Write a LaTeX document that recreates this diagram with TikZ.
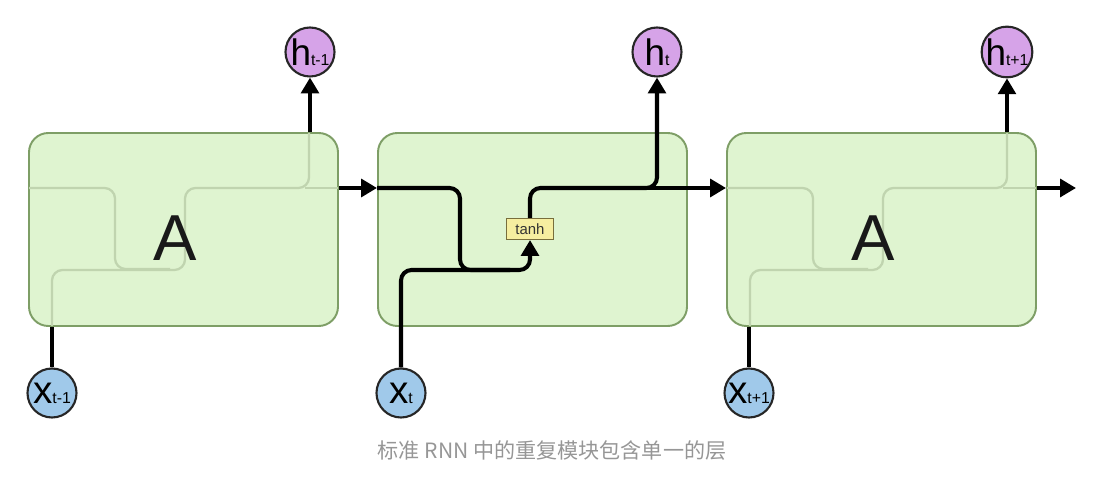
\documentclass[tikz,border=0pt]{standalone}
\usepackage{fontspec}
\setmainfont{Liberation Sans}
\newfontfamily\cjkfont{Noto Sans CJK SC}
\usetikzlibrary{arrows.meta}
\usetikzlibrary{calc}

\definecolor{cellfill}{RGB}{223,244,208}
\definecolor{celldraw}{RGB}{126,158,102}
\definecolor{ghost}{RGB}{192,212,175}
\definecolor{hfill}{RGB}{214,163,232}
\definecolor{xfill}{RGB}{160,201,234}
\definecolor{tanhfill}{RGB}{246,238,160}
\definecolor{tanhdraw}{RGB}{120,110,60}
\definecolor{captiongray}{RGB}{150,150,150}

\tikzset{
  cell/.style={draw=celldraw, line width=1.1pt, fill=cellfill, rounded corners=11pt,
    minimum width=6.18cm, minimum height=3.86cm, inner sep=0pt},
  letter/.style={text=black!90, font=\fontsize{37}{37}\selectfont},
  hout/.style={circle, draw=black!85, line width=1.2pt, fill=hfill, minimum size=0.98cm, inner sep=0pt},
  xin/.style={circle, draw=black!85, line width=1.2pt, fill=xfill, minimum size=0.98cm, inner sep=0pt},
  wire/.style={line width=2.3pt, rounded corners=6pt},
  arr/.style={wire, -{Triangle[length=9pt,width=10pt]}},
  ghostwire/.style={ghost, line width=1.3pt, rounded corners=6pt},
}

\newcommand{\hlab}[1]{{\fontsize{21}{21}\selectfont h}{\fontsize{9}{9}\selectfont #1}}
\newcommand{\xlab}[1]{{\fontsize{22}{22}\selectfont x}{\fontsize{9}{9}\selectfont #1}}

\begin{document}
\begin{tikzpicture}
  \useasboundingbox (0,0) rectangle (22.32,9.62);

  % cells
  \node[cell] (A1) at (3.67,5.03) {};
  \node[cell] (A2) at (10.65,5.03) {};
  \node[cell] (A3) at (17.63,5.03) {};

  \coordinate (mid) at (0,5.86);
  \coordinate (low) at (0,4.22);
  \coordinate (out) at (21.52,5.86);

  % inputs and outputs
  \node[hout] (h1) at (6.20,8.58) {\hlab{t-1}};
  \node[hout] (h2) at (13.14,8.58) {\hlab{t}};
  \node[hout] (h3) at (20.14,8.58) {\hlab{t+1}};
  \node[xin] (x1) at (1.04,1.76) {\xlab{t-1}};
  \node[xin] (x2) at (8.02,1.76) {\xlab{t}};
  \node[xin] (x3) at (14.98,1.76) {\xlab{t+1}};

  % faint wiring inside the outer cells
  \foreach \s/\n in {0/1,13.96/3} {
    \begin{scope}[shift={(\s,0)}]
      \draw[ghostwire] (0.58,5.86) -- (2.30,5.86) -- (2.30,4.24) -- (3.40,4.24);
      \draw[ghostwire] (1.04,3.10) -- (1.04,4.22) -- (3.70,4.22) -- (3.70,5.86) -- (6.18,5.86) -- (6.18,6.96);
      \draw[ghostwire] (6.10,5.86) -- (6.76,5.86);
    \end{scope}
    \draw[arr] (A\n.north -| h\n) -- (h\n);
    \draw[wire] (x\n) -- (x\n |- A\n.south);
  }

  \node[letter] (a1) at (3.50,4.86) {A};
  \node[letter] (a3) at (17.46,4.86) {A};

  % middle cell
  \node[draw=tanhdraw, fill=tanhfill, line width=0.6pt, minimum width=0.94cm, minimum height=0.42cm,
    inner sep=0pt, text=black!80, font=\fontsize{8.5}{8.5}\selectfont] (tanh) at (10.60,5.04) {tanh};
  \draw[wire] (A2.west |- mid) -- (9.20,5.86) -- (9.20,4.22) -- (10.2,4.22);
  \draw[arr] (x2) -- (x2 |- low) -- (tanh |- low) -- (tanh.south);
  \draw[arr] (tanh.north) -- (tanh |- mid) -- (h2 |- mid) -- (h2);
  \draw[wire] (12.9,5.86) -- (A2.east |- mid);

  % hidden state passed along
  \draw[arr] (A1.east |- mid) -- (A2.west |- mid);
  \draw[arr] (A2.east |- mid) -- (A3.west |- mid);
  \draw[arr] (A3.east |- mid) -- (out);

  \node[text=captiongray, font=\cjkfont\fontsize{12}{12}\selectfont] (cap) at (11.04,0.60) {标准 RNN 中的重复模块包含单一的层};
\end{tikzpicture}
\end{document}
